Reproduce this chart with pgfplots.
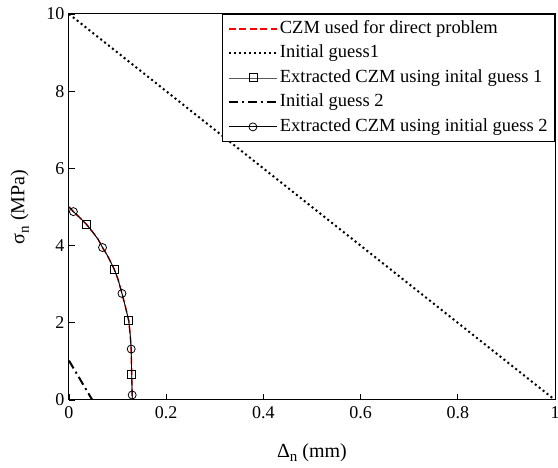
\documentclass[border=0pt]{standalone}
\usepackage{pgfplots}
\pgfplotsset{compat=1.18}
\usepackage{fontspec}
\setmainfont{Liberation Serif}

% Traction-separation curve (delta_n in mm, sigma_n in MPa)
\pgfplotstableread{
d      s
0      5.00
0.009  4.88
0.020  4.75
0.036  4.55
0.050  4.33
0.060  4.16
0.069  3.95
0.080  3.72
0.093  3.39
0.101  3.12
0.109  2.76
0.116  2.42
0.123  2.05
0.126  1.68
0.128  1.32
0.1285 1.00
0.129  0.67
0.1295 0.40
0.130  0.13
0.130  0.00
}\czm

% Points marked on the extracted curves
\pgfplotstableread{
d      s
0.036  4.55
0.093  3.39
0.123  2.05
0.129  0.67
}\guessone

\pgfplotstableread{
d      s
0.009  4.88
0.069  3.95
0.109  2.76
0.128  1.32
0.130  0.13
}\guesstwo

\tikzset{
  czmred/.style={red, line width=1.5pt, dash pattern=on 7pt off 3.5pt},
  guessA/.style={black, line width=2pt, dash pattern=on 2pt off 3pt},
  guessB/.style={black, line width=2pt, dash pattern=on 9pt off 4pt on 2pt off 4pt},
  extrA/.style={black!65, line width=0.7pt},
  extrB/.style={black, line width=0.8pt},
  sqmark/.style={mark=square, mark size=4pt, mark options={solid, black, line width=0.8pt}},
  ocmark/.style={mark=o, mark size=4pt, mark options={solid, black, line width=0.8pt}},
}

\begin{document}
\begin{tikzpicture}
\begin{axis}[
  name=ax,
  scale only axis,
  width=486pt, height=386pt,
  xmin=0, xmax=1, ymin=0, ymax=10,
  xtick={0,0.2,...,1}, ytick={0,2,...,10},
  xticklabels={0,0.2,0.4,0.6,0.8,1},
  tick align=inside, tick pos=left,
  major tick length=6pt,
  axis line style={line width=1pt},
  every tick/.style={line width=0.8pt, black},
  tick label style={font=\fontsize{18}{21}\selectfont},
  xticklabel style={yshift=-3pt},
  yticklabel style={xshift=-1pt},
  /pgf/number format/assume math mode=true,
  xlabel={Δ\raisebox{-0.5ex}{\fontsize{15}{17}\selectfont n} (mm)},
  ylabel={σ\raisebox{-0.5ex}{\fontsize{15}{17}\selectfont n} (MPa)},
  label style={font=\fontsize{20}{23}\selectfont},
  xlabel style={at={(axis description cs:0.5,-0.148)}, anchor=base},
  ylabel style={at={(axis description cs:-0.092,0.5)}, anchor=base, rotate=0},
  legend cell align=left,
  legend style={at={(1,1)}, anchor=north east,
    font=\fontsize{18.5}{21}\selectfont,
    draw=black, line width=0.8pt,
    inner xsep=5pt, inner ysep=4pt, row sep=3.5pt,
    nodes={text height=13pt, text depth=4pt, inner ysep=2pt, inner xsep=2pt},
    /tikz/every even column/.append style={column sep=3pt}},
  legend image code/.code={%
    \draw[mark repeat=2, mark phase=2, #1]
      plot coordinates {(0pt,0pt) (24pt,0pt) (48pt,0pt)};
  },
]
% curves
\addplot[czmred, forget plot] table[x=d,y=s] {\czm};
\addplot[guessA, forget plot] coordinates {(0,10) (1,0)};
\addplot[extrA, forget plot] table[x=d,y=s] {\czm};
\addplot[guessB, forget plot] coordinates {(0,1.02) (0.048,0)};
\addplot[extrB, forget plot] table[x=d,y=s] {\czm};
% markers on the extracted curves
\addplot[only marks, sqmark, forget plot] table[x=d,y=s] {\guessone};
\addplot[only marks, ocmark, forget plot] table[x=d,y=s] {\guesstwo};

% legend
\addlegendimage{czmred}
\addlegendentry{CZM used for direct problem}
\addlegendimage{guessA}
\addlegendentry{Initial guess1}
\addlegendimage{extrA, sqmark}
\addlegendentry{Extracted CZM using inital guess 1}
\addlegendimage{guessB}
\addlegendentry{Initial guess 2}
\addlegendimage{extrB, ocmark}
\addlegendentry{Extracted CZM using initial guess 2}
\end{axis}
\pgfresetboundingbox
\path ([shift={(-69pt,-68pt)}]ax.south west) rectangle ([shift={(3pt,14pt)}]ax.north east);
\end{tikzpicture}
\end{document}
